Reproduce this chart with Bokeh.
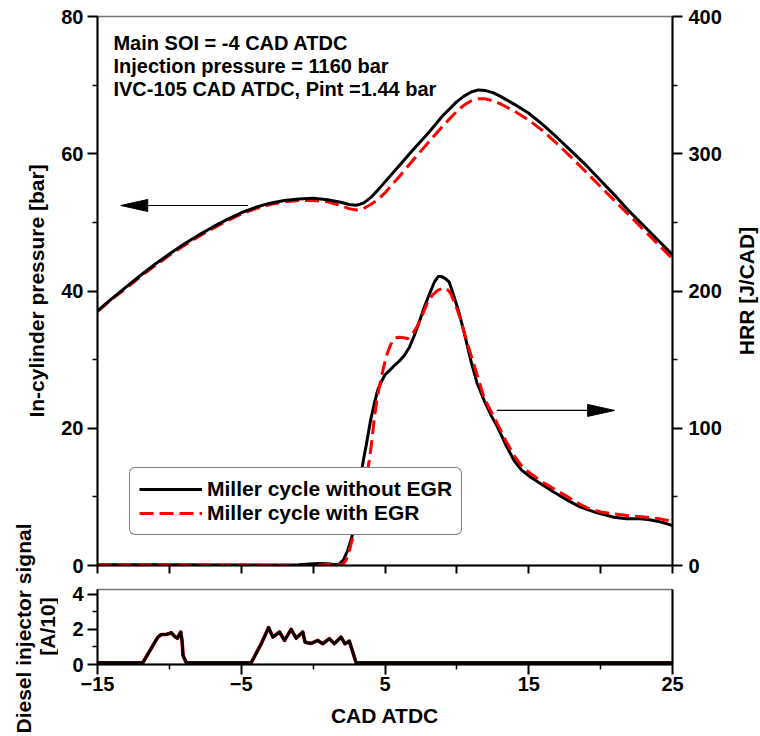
import math
from bokeh.plotting import figure
from bokeh.models import (Range1d, LinearAxis, FixedTicker, Label, Legend, LegendItem)
from bokeh.layouts import row, column
from bokeh.embed import file_html
from bokeh.resources import INLINE

FONT = "Liberation Sans"

# ---------------- data ----------------
p_x = [-15, -14, -13, -12, -11, -10, -9, -8, -7, -6, -5, -4, -3, -2, -1, 0, 1, 2, 2.5, 3, 3.5,
       4, 4.5, 5, 6, 7, 8, 9, 10, 10.5, 11, 11.5, 12, 12.5, 13, 14, 15, 16, 17, 18, 19, 20,
       21, 22, 23, 24, 25]
p_black = [37.1, 38.9, 40.6, 42.3, 43.9, 45.4, 46.8, 48.1, 49.3, 50.4, 51.4, 52.2, 52.8, 53.2,
           53.4, 53.5, 53.3, 52.9, 52.6, 52.5, 52.8, 53.6, 54.7, 55.9, 58.3, 60.7, 63.0, 65.5,
           67.6, 68.4, 69.0, 69.3, 69.2, 68.9, 68.4, 67.2, 65.9, 64.2, 62.3, 60.3, 58.3, 56.1,
           53.9, 51.6, 49.5, 47.4, 45.3]
p_red = [37.0, 38.8, 40.4, 42.1, 43.7, 45.2, 46.6, 47.9, 49.1, 50.2, 51.2, 52.0, 52.6, 53.0,
         53.2, 53.2, 53.0, 52.4, 52.0, 51.8, 52.0, 52.6, 53.3, 54.3, 56.7, 59.2, 61.6, 64.0,
         66.2, 67.1, 67.7, 68.0, 68.0, 67.7, 67.3, 66.2, 64.9, 63.3, 61.4, 59.4, 57.3, 55.2,
         53.1, 51.0, 48.9, 46.8, 44.7]

hrr_x_black = [-15, -10, -5, -3, -1, 0, 0.5, 1, 1.5, 1.8, 2.1, 2.4, 2.7, 2.9, 3.1, 3.3, 3.5,
               3.7, 4.0, 4.3, 4.5, 4.8, 5.0, 5.3, 5.65, 6.0, 6.34, 6.7, 7.04, 7.4, 7.73, 8.1,
               8.43, 8.7, 8.9, 9.2, 9.47, 9.8, 10.1, 10.5, 10.97, 11.4, 11.9, 12.4, 12.83,
               13.4, 13.98, 14.5, 15.14, 16, 16.76, 17.7, 18.61, 19.7, 20.93, 21.8, 22.78,
               23.4, 23.94, 24.5, 25]
hrr_black = [0.5, 0.5, 0.3, 0.3, 0.5, 1.2, 1.5, 1.2, 0.6, 1.0, 4, 10.9, 21, 29, 45, 64, 77,
             88, 106, 120, 128, 135, 139, 142, 145.7, 149, 153, 159, 167.6, 178, 188.2, 198,
             206.4, 210.5, 210.6, 209, 206.4, 196, 186, 170, 149.4, 133, 120.2, 109, 100.8,
             88, 76.5, 69.5, 64.3, 58.5, 53.4, 47.5, 42.5, 38.5, 35.2, 34.0, 34.0, 33.3, 32.3,
             30.8, 29.1]

hrr_x_red = [-15, -10, -5, -2, -1, 0, 0.5, 1.0, 1.4, 1.8, 2.06, 2.3, 2.5, 2.76, 3.0, 3.33,
             3.6, 3.91, 4.1, 4.26, 4.43, 4.6, 4.85, 5.07, 5.3, 5.53, 5.8, 6.0, 6.3, 6.57, 6.9,
             7.27, 7.6, 7.96, 8.3, 8.66, 9.0, 9.12, 9.35, 9.58, 9.9, 10.28, 10.7, 11.2, 11.9,
             12.83, 13.4, 13.98, 14.5, 15.14, 16.0, 16.76, 17.7, 18.5, 19.07, 20.0, 20.93,
             22.0, 23.24, 24.2, 25]
hrr_red = [0.5, 0.5, 0.3, 0.0, -0.8, -0.5, 0.3, 0.8, 1.2, 0.5, 0.7, 4, 10, 20.6, 31, 47.4,
           60, 76.5, 92, 108, 120, 130, 142, 151.8, 158.5, 163.9, 166, 166.3, 166, 165.2,
           168.5, 174.9, 182.5, 191.8, 197, 200.4, 202, 202.3, 201, 198, 190, 178.5, 163,
           146, 122, 103, 91, 80, 72.5, 66.8, 60.5, 55.8, 50, 45, 42, 39, 37.6, 36.2, 35.2,
           33.8, 32.3]

inj_x = [-15, -11.85, -10.8, -10.56, -10.21, -9.86, -9.63, -9.44, -9.21, -9.12, -9.05, -8.82,
         -4.31, -3.61, -3.1, -2.8, -2.34, -1.99, -1.53, -1.18, -0.72, -0.56, -0.14, 0.33,
         0.67, 1.13, 1.48, 1.94, 2.22, 2.52, 2.99, 25]
inj_black = [0.1, 0.1, 1.56, 1.71, 1.71, 1.81, 1.6, 1.5, 1.85, 1.37, 0.5, 0.1,
             0.1, 1.18, 2.1, 1.56, 1.85, 1.37, 2.0, 1.5, 1.85, 1.27, 1.2, 1.37,
             1.18, 1.47, 1.18, 1.56, 1.18, 1.33, 0.1, 0.1]
inj_red = list(inj_black)

x_major = [-15, -5, 5, 15, 25]
x_minor = [-10, 0, 10, 20]
p_major = [0, 20, 40, 60, 80]
p_minor = [10, 30, 50, 70]
h_major = [0, 100, 200, 300, 400]
h_minor = [50, 150, 250, 350]
s_major = [0, 2, 4]
s_minor = [1, 3]

notes = ["Main SOI = -4 CAD ATDC", "Injection pressure = 1160 bar",
         "IVC-105 CAD ATDC, Pint =1.44 bar"]
series_names = ["Miller cycle without EGR", "Miller cycle with EGR"]

# ---------------- helpers ----------------
def style_axis(ax):
    ax.axis_line_color = "black"
    ax.axis_line_width = 2
    ax.major_tick_line_color = "black"
    ax.major_tick_line_width = 2
    ax.minor_tick_line_color = "black"
    ax.minor_tick_line_width = 1.5
    ax.major_tick_in = 0
    ax.major_tick_out = 10
    ax.minor_tick_in = 0
    ax.minor_tick_out = 5
    ax.major_label_text_font = FONT
    ax.major_label_text_font_style = "bold"
    ax.major_label_text_color = "black"
    ax.major_label_text_font_size = "20px"
    ax.axis_label_text_font = FONT
    ax.axis_label_text_font_style = "bold"
    ax.axis_label_text_font_size = "21px"
    ax.axis_label_text_color = "black"


def title_strip(width, labels):
    s = figure(width=width, height=736, x_range=Range1d(0, width), y_range=Range1d(736, 0),
               x_axis_type=None, y_axis_type=None, output_backend="svg",
               toolbar_location=None, min_border=0, min_border_left=0, min_border_right=0,
               min_border_top=0, min_border_bottom=0)
    s.outline_line_color = None
    s.xgrid.visible = False
    s.ygrid.visible = False
    for t, xx, yy in labels:
        s.add_layout(Label(x=xx, y=yy, text=t, angle=math.pi / 2, text_font=FONT,
                           text_font_style="bold", text_font_size="21px",
                           text_color="black", text_align="center",
                           text_baseline="middle"))
    return s


W_LEFT = 58
W_RIGHT = 34
W_MAIN = 760 - W_LEFT - W_RIGHT
B_LEFT = 38
B_RIGHT = W_MAIN - B_LEFT - 576

# ---------------- top panel ----------------
top = figure(width=W_MAIN, height=579, x_range=Range1d(-15, 25), y_range=Range1d(0, 80),
             output_backend="svg", toolbar_location=None,
             min_border_left=B_LEFT, min_border_right=B_RIGHT, min_border_top=16,
             min_border_bottom=14)
top.extra_y_ranges = {"hrr": Range1d(0, 400)}
top.xgrid.visible = False
top.ygrid.visible = False
top.outline_line_color = "#777777"
top.outline_line_width = 1.5
top.background_fill_color = "white"
top.border_fill_color = "white"

# x axis of the upper panel: tick marks only (no labels)
xa = top.xaxis[0]
style_axis(xa)
xa.ticker = FixedTicker(ticks=[], minor_ticks=sorted(x_major + x_minor))
xa.minor_tick_out = 8
xa.minor_tick_line_width = 2
xa.major_label_standoff = 0

ya = top.yaxis[0]
ya.ticker = FixedTicker(ticks=p_major, minor_ticks=p_minor)
style_axis(ya)
ya.major_label_standoff = 4

ra = LinearAxis(y_range_name="hrr", ticker=FixedTicker(ticks=h_major, minor_ticks=h_minor))
style_axis(ra)
ra.major_label_standoff = 6
top.add_layout(ra, "right")

top.line(p_x, p_red, line_color="red", line_width=3, line_dash="14 6", line_join="round")
top.line(p_x, p_black, line_color="black", line_width=3, line_join="round")
hb = top.line(hrr_x_black, hrr_black, y_range_name="hrr", line_color="black", line_width=3,
              line_join="round")
hr = top.line(hrr_x_red, hrr_red, y_range_name="hrr", line_color="red", line_width=3,
              line_dash="14 6", line_join="round")

legend = Legend(items=[LegendItem(label=series_names[0], renderers=[hb]),
                       LegendItem(label=series_names[1], renderers=[hr])],
                location=(32, 30), orientation="vertical",
                label_text_font=FONT, label_text_font_style="bold",
                label_text_font_size="21px", label_text_color="black",
                glyph_width=63, glyph_height=22, label_height=22, label_standoff=5,
                padding=9, spacing=0, margin=0,
                border_line_color="black", border_line_width=1.2,
                background_fill_color="white", background_fill_alpha=1.0)
if "border_radius" in Legend.properties():
    legend.border_radius = 6
top.add_layout(legend)

# notes (annotation text)
note_y = [76.14, 72.79, 69.44]
for t, yy in zip(notes, note_y):
    top.add_layout(Label(x=-13.89, y=yy, text=t, text_font=FONT, text_font_style="bold",
                         text_font_size="20px", text_color="black",
                         text_baseline="middle", text_align="left"))

# arrows (shaft + elongated head)
DX = 40 / 576.0
DY = 80 / 549.0
def draw_arrow(fig, x_tail, x_tip, y):
    d = 1 if x_tip > x_tail else -1
    base = x_tip - d * 27 * DX
    fig.segment(x0=[x_tail], y0=[y], x1=[base], y1=[y], line_color="black", line_width=1.2)
    fig.patch([x_tip, base, base], [y, y + 6 * DY, y - 6 * DY], fill_color="black",
              line_color="black", line_width=1)

draw_arrow(top, -4.53, -13.38, 52.46)
draw_arrow(top, 12.78, 20.97, 22.6)

# ---------------- bottom panel ----------------
bot = figure(width=W_MAIN, height=157, x_range=top.x_range, y_range=Range1d(0, 4.27),
             output_backend="svg", toolbar_location=None,
             min_border_left=B_LEFT, min_border_right=B_RIGHT, min_border_top=10,
             min_border_bottom=72)
bot.xgrid.visible = False
bot.ygrid.visible = False
bot.outline_line_color = "#777777"
bot.outline_line_width = 1.5

bxa = bot.xaxis[0]
bxa.ticker = FixedTicker(ticks=x_major, minor_ticks=x_minor)
style_axis(bxa)
bxa.major_label_standoff = 2
bxa.axis_label = "CAD ATDC"
bxa.axis_label_standoff = 10

bya = bot.yaxis[0]
bya.ticker = FixedTicker(ticks=s_major, minor_ticks=s_minor)
style_axis(bya)
bya.major_label_standoff = 4

bra = LinearAxis(ticker=FixedTicker(ticks=[], minor_ticks=[]))
style_axis(bra)
bra.major_tick_out = 0
bra.minor_tick_out = 0
bra.major_label_standoff = 0
bot.add_layout(bra, "right")

bot.line(inj_x, inj_red, line_color="red", line_width=3.6, line_join="round")
bot.line(inj_x, inj_black, line_color="black", line_width=3, line_join="round")

# ---------------- strips with the vertical axis titles ----------------
left_strip = title_strip(W_LEFT, [("In-cylinder pressure [bar]", 36, 290.5),
                                  ("Diesel injector signal", 22.5, 628),
                                  ("[A/10]", 47, 626)])
right_strip = title_strip(W_RIGHT, [("HRR [J/CAD]", 20, 290.5)])

layout = row(left_strip, column(top, bot), right_strip)
open("out.html", "w").write(file_html(layout, INLINE))
